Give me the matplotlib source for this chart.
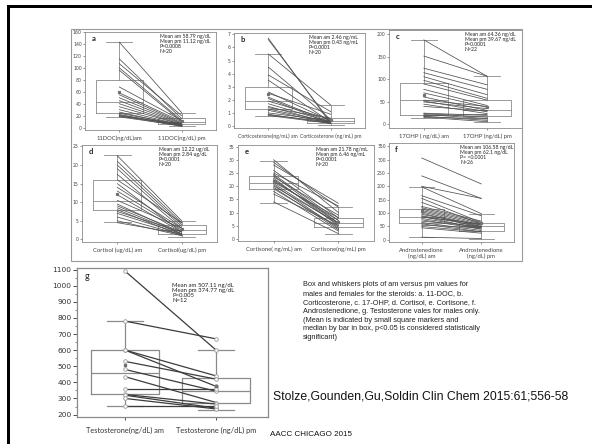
import numpy as np
import matplotlib.pyplot as plt
from matplotlib.patches import Rectangle

W, H = 592, 444

# ---- panel data (am / pm values per subject, box stats: whislo, q1, med, q3, whishi) ----
a_am = [143, 115, 107, 100, 96, 68, 58, 55, 50, 45, 40, 35, 30, 26, 24, 22, 21, 20, 19, 18]
a_pm = [25, 15, 20, 12, 10, 12, 10, 8, 7, 6, 5, 5, 4, 3, 5, 3, 4, 2, 6, 3]
a_box_am = [18, 24, 43, 79, 143]
a_box_pm = [2, 6, 10, 16, 25]
a_mean = [58.79, 11.12]

b_am = [6.7, 6.6, 5.5, 4.5, 3.9, 3.5, 2.6, 2.5, 2.2, 2.1, 1.9, 1.7, 1.5, 1.4, 1.3, 1.2, 1.0, 0.9, 0.85, 0.8]
b_pm = [0.2, 0.3, 1.6, 0.5, 1.1, 0.3, 0.4, 0.9, 0.3, 0.2, 0.5, 0.3, 0.2, 0.6, 0.3, 0.2, 0.4, 0.2, 0.3, 0.2]
b_box_am = [0.8, 1.3, 1.88, 2.96, 5.5]
b_box_pm = [0.1, 0.25, 0.35, 0.58, 1.6]
b_mean = [2.46, 0.43]

c_am = [188, 152, 125, 115, 106, 98, 90, 78, 70, 61, 54, 52, 50, 45, 40, 25, 24, 22, 20, 18, 17, 16]
c_pm = [107, 107, 88, 78, 66, 58, 54, 42, 38, 31, 40, 28, 35, 24, 30, 20, 16, 13, 22, 9, 12, 6]
c_box_am = [15, 22, 54, 91, 188]
c_box_pm = [5, 18, 31, 54, 107]
c_mean = [64.36, 39.67]

d_am = [22.5, 21, 20, 19, 17.5, 16, 15, 14, 13, 12, 10.5, 9.5, 9, 8.5, 8, 7.5, 7, 6, 5, 4.5]
d_pm = [5, 4.5, 4, 3.5, 3, 4.5, 2, 3, 2.5, 2, 3, 1.5, 2, 1.5, 1, 2, 1.5, 1.2, 1, 1.5]
d_box_am = [4.6, 7.9, 10.4, 16, 22.8]
d_box_pm = [0.7, 1.4, 2.5, 3.9, 5.0]
d_mean = [12.22, 2.84]

e_am = [30, 29, 28, 26, 25, 24.5, 24, 23.5, 23, 22.5, 22, 21.5, 21, 20.5, 20, 19.5, 19, 18, 17, 14]
e_pm = [10, 12, 13.5, 8, 12.5, 7, 6, 9, 5, 6, 7, 8, 5.5, 4, 6, 3.5, 4.5, 3, 5, 2]
e_box_am = [13.6, 18.9, 21.2, 23.7, 29.6]
e_box_pm = [2, 4.5, 6.0, 7.9, 12]
e_mean = [21.78, 6.46]

f_am = [306, 239, 200, 198, 165, 155, 140, 125, 120, 115, 110, 105, 100, 95, 90,
        88, 85, 80, 75, 70, 65, 60, 55, 50, 45, 10]
f_pm = [209, 155, 155, 98, 90, 65, 60, 70, 65, 60, 55, 50, 45, 55, 50,
        40, 60, 45, 40, 50, 35, 30, 45, 30, 25, 5]
f_box_am = [10, 63, 85, 117, 199]
f_box_pm = [5, 33, 50, 64, 98]
f_mean = [106.58, 62.1]

g_am = [1090, 780, 600, 600, 530, 480, 435, 360, 325, 320, 300, 255]
g_pm = [600, 670, 440, 375, 420, 345, 275, 360, 265, 240, 235, 255]
g_box_am = [255, 325, 460, 600, 780]
g_box_pm = [230, 270, 345, 425, 600]
g_mean = [507.11, 374.77]

panels = [
    dict(tag='a', am=a_am, pm=a_pm, bam=a_box_am, bpm=a_box_pm, mean=a_mean,
         px=(85, 32, 216, 130), ylim=(-4, 160), yt=np.arange(0, 161, 20),
         xl=['11DOC(ng/dL)am', '11DOC(ng/dL) pm'], xfs=4.2,
         txt='Mean am 58.79 ng/dL\nMean pm 11.12 ng/dL\nP=0.0008\nN=20'),
    dict(tag='b', am=b_am, pm=b_pm, bam=b_box_am, bpm=b_box_pm, mean=b_mean,
         px=(234, 33, 365, 128), ylim=(-0.15, 7.1), yt=np.arange(0, 8, 1),
         xl=['Corticosterone(ng/mL) am', 'Corticosterone (ng/mL) pm'], xfs=3.7,
         txt='Mean am 2.46 ng/mL\nMean pm 0.43 ng/mL\nP=0.0001\nN=20'),
    dict(tag='c', am=c_am, pm=c_pm, bam=c_box_am, bpm=c_box_pm, mean=c_mean,
         px=(389, 30, 522, 128), ylim=(-8, 210), yt=np.arange(0, 201, 50),
         xl=['17OHP ( ng/dL) am', '17OHP (ng/dL) pm'], xfs=4.2,
         txt='Mean am 64.36 ng/dL\nMean pm 39.67 ng/dL\nP=0.0001\nN=22'),
    dict(tag='d', am=d_am, pm=d_pm, bam=d_box_am, bpm=d_box_pm, mean=d_mean,
         px=(82, 145, 217, 242), ylim=(-0.7, 25.4), yt=np.arange(0, 26, 5),
         xl=['Cortisol (ug/dL) am', 'Cortisol(ug/dL) pm'], xfs=4.2,
         txt='Mean am 12.22 ug/dL\nMean pm 2.84 ug/dL\nP=0.0001\nN=20'),
    dict(tag='e', am=e_am, pm=e_pm, bam=e_box_am, bpm=e_box_pm, mean=e_mean,
         px=(238, 145, 374, 241), ylim=(-0.8, 35.6), yt=np.arange(0, 36, 5),
         xl=['Cortisone( ng/mL) am', 'Cortisone(ng/mL) pm'], xfs=4.2,
         txt='Mean am 21.78 ng/mL\nMean pm 6.46 ng/mL\nP=0.0001\nN=20'),
    dict(tag='f', am=f_am, pm=f_pm, bam=f_box_am, bpm=f_box_pm, mean=f_mean,
         px=(389, 143, 514, 242), ylim=(-8, 362), yt=np.arange(0, 351, 50),
         xl=['Androstenedione\n(ng/dL) am', 'Androstenedione\n(ng/dL) pm'], xfs=4.2,
         txt='Mean am 106.58 ng/dL\nMean pm 62.1 ng/dL\nP= <0.0001\nN=26'),
]

caption = ("Box and whiskers plots of am versus pm values for\n"
           "males and females for the steroids: a. 11-DOC, b.\n"
           "Corticosterone, c. 17-OHP, d. Cortisol, e. Cortisone, f.\n"
           "Androstenedione, g. Testosterone vales for males only.\n"
           "(Mean is indicated by small square markers and\n"
           "median by bar in box, p<0.05 is considered statistically\n"
           "significant)")
citation = "Stolze,Gounden,Gu,Soldin Clin Chem 2015:61;556-58"
footer = "AACC CHICAGO 2015"

GRAY = '#8a8a8a'
LINE = '#505050'
PFONT = 'Lato'


def rect(px):
    x0, y0, x1, y1 = px
    return [x0 / W, 1 - y1 / H, (x1 - x0) / W, (y1 - y0) / H]


def stats(b):
    return dict(whislo=b[0], q1=b[1], med=b[2], q3=b[3], whishi=b[4], fliers=[])


def draw_boxes(ax, bam, bpm, lw, cap):
    bp = ax.bxp([stats(bam), stats(bpm)], positions=[1, 2], widths=0.75,
                capwidths=cap, showfliers=False, patch_artist=False, manage_ticks=False,
                boxprops=dict(color=GRAY, lw=lw), whiskerprops=dict(color=GRAY, lw=lw),
                capprops=dict(color=GRAY, lw=lw), medianprops=dict(color=GRAY, lw=lw))
    for k in bp:
        for art in bp[k]:
            art.set_zorder(1)


fig = plt.figure(figsize=(W / 100, H / 100), dpi=100)
fig.patch.set_facecolor('white')

# slide frame
fig.add_artist(Rectangle((7 / W, 1 - 8 / H), 1, 3 / H, transform=fig.transFigure,
                         color='black', lw=0))
fig.add_artist(Rectangle((7 / W, 0), 3 / W, 1 - 5 / H, transform=fig.transFigure,
                         color='black', lw=0))
# frame of pasted composite figure
fig.add_artist(Rectangle((71 / W, 1 - 261 / H), (522 - 71) / W, (261 - 29) / H,
                         transform=fig.transFigure, fill=False, ec='#9a9a9a', lw=0.8))

for p in panels:
    ax = fig.add_axes(rect(p['px']))
    draw_boxes(ax, p['bam'], p['bpm'], 0.6, 0.42)
    for va, vp in zip(p['am'], p['pm']):
        ax.plot([1, 2], [va, vp], color=LINE, lw=0.55, zorder=2)
    ax.plot([1, 2], p['mean'], ls='none', marker='s', ms=1.3, color='#707070', zorder=3)
    ax.set_xlim(0.45, 2.55)
    ax.set_ylim(*p['ylim'])
    ax.set_yticks(p['yt'])
    ax.set_xticks([1, 2])
    ax.set_xticklabels(p['xl'], fontsize=p['xfs'], family=PFONT, color='#333333', linespacing=1.1)
    ax.tick_params(axis='y', labelsize=3.3, length=1.5, width=0.4, pad=0.8, colors='#444444')
    ax.tick_params(axis='x', length=1.2, width=0.4, pad=3, colors='#444444')
    for s in ax.spines.values():
        s.set_color(GRAY)
        s.set_linewidth(0.6)
    ax.text(0.05, 0.97, p['tag'], transform=ax.transAxes, fontsize=5.5, fontweight='bold',
            va='top', ha='left', family=PFONT, color='#222222')
    ax.text(0.57, 0.98, p['txt'], transform=ax.transAxes, fontsize=3.7, va='top', ha='left',
            family=PFONT, color='#222222', linespacing=1.0)

# panel g
ax = fig.add_axes(rect((77, 268, 268, 417)))
draw_boxes(ax, g_box_am, g_box_pm, 0.9, 0.4)
for va, vp in zip(g_am, g_pm):
    ax.plot([1, 2], [va, vp], color='#3c3c3c', lw=0.9, zorder=2,
            marker='o', ms=2.6, mfc='white', mec='#9a9a9a', mew=0.6)
ax.plot([1, 2], g_mean, ls='none', marker='s', ms=1.8, color='#707070', zorder=3)
ax.set_xlim(0.47, 2.57)
ax.set_ylim(185, 1110)
ax.set_yticks(np.arange(200, 1101, 100))
ax.set_yticks(np.arange(200, 1101, 50), minor=True)
ax.set_xticks([1, 2])
ax.set_xticklabels(['Testosterone(ng/dL) am', 'Testosterone (ng/dL) pm'], fontsize=5.3,
                   family=PFONT, color='#333333')
ax.tick_params(axis='y', labelsize=5.3, length=3, width=0.6, pad=1, colors='#333333')
ax.tick_params(axis='y', which='minor', length=1.5, width=0.5, colors='#555555')
ax.tick_params(axis='x', length=2, width=0.6, pad=5, colors='#333333')
for s in ax.spines.values():
    s.set_color(GRAY)
    s.set_linewidth(0.9)
ax.text(0.04, 0.97, 'g', transform=ax.transAxes, fontsize=6.5, va='top', ha='left',
        family=PFONT, color='#222222')
ax.text(0.5, 0.9, 'Mean am 507.11 ng/dL\nMean pm 374.77 ng/dL\nP=0.005\nN=12',
        transform=ax.transAxes, fontsize=4.3, va='top', ha='left', family=PFONT,
        color='#222222', linespacing=1.05)

# slide text
fig.text(303 / W, 1 - 281 / H, caption, fontsize=5.3, family='Liberation Sans',
         va='top', ha='left', linespacing=1.38, color='#222222')
fig.text(273 / W, 1 - 396 / H, citation, fontsize=8.8, family='Liberation Sans',
         va='center', ha='left', color='#111111')
fig.text(270 / W, 1 - 434 / H, footer, fontsize=5.8, family='Liberation Sans',
         va='center', ha='left', color='#111111')

fig.savefig('out.png', dpi=100)
